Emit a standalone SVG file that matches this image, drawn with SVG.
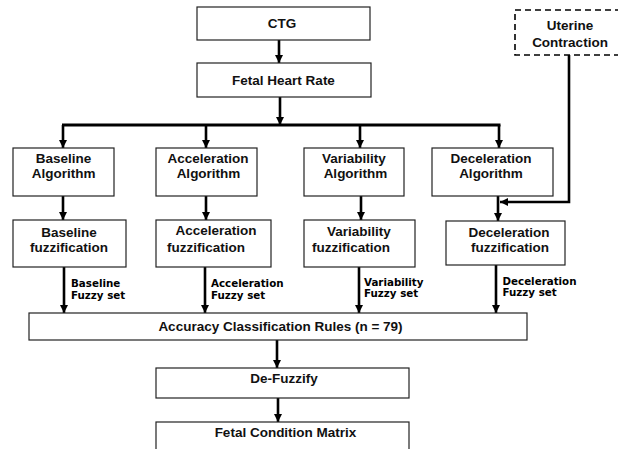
<svg xmlns="http://www.w3.org/2000/svg" width="618" height="449" viewBox="0 0 618 449">
<defs>
<marker id="ah" viewBox="0 0 10 10" refX="10" refY="5" markerWidth="8" markerHeight="9" orient="auto" markerUnits="userSpaceOnUse">
<path d="M0,0 L10,5 L0,10 z" fill="#000"/>
</marker>
<style>
.box{fill:#fff;stroke:#222;stroke-width:1.2}
.dash{fill:#fff;stroke:#000;stroke-width:1.6;stroke-dasharray:6 4}
.t{font-family:"Liberation Sans",Arial,sans-serif;font-weight:bold;font-size:13.5px;fill:#111;text-anchor:middle}
.lbl{font-family:"DejaVu Sans",sans-serif;font-weight:bold;font-size:10.3px;fill:#000}
.c{fill:none;stroke:#000;stroke-width:2.6}
.ca{fill:none;stroke:#000;stroke-width:2.6;marker-end:url(#ah)}
</style>
</defs>
<rect width="618" height="449" fill="#fff"/>

<g id="connectors">
<line class="ca" x1="279" y1="40" x2="279" y2="63"/>
<line class="ca" x1="280" y1="97" x2="280" y2="125"/>
<line class="c" x1="62" y1="125" x2="500.5" y2="125" style="stroke-width:3"/>
<line class="ca" x1="63" y1="125" x2="63" y2="148"/>
<line class="ca" x1="206" y1="125" x2="206" y2="148"/>
<line class="ca" x1="360" y1="125" x2="360" y2="148"/>
<line class="ca" x1="499" y1="125" x2="499" y2="148"/>
<line class="ca" x1="63" y1="196" x2="63" y2="220"/>
<line class="ca" x1="206" y1="196" x2="206" y2="220"/>
<line class="ca" x1="361" y1="196" x2="361" y2="220"/>
<line class="ca" x1="498" y1="196" x2="498" y2="221"/>
<polyline class="ca" points="569,55 569,202 500,202"/>
<line class="ca" x1="64" y1="267" x2="64" y2="313"/>
<line class="ca" x1="205" y1="267" x2="205" y2="313"/>
<line class="ca" x1="359" y1="267" x2="359" y2="313"/>
<line class="ca" x1="496" y1="265" x2="496" y2="313"/>
<line class="ca" x1="277" y1="340" x2="277" y2="368"/>
<line class="ca" x1="278" y1="398" x2="278" y2="422"/>
<text class="lbl" x="71" y="286.5">Baseline</text>
<text class="lbl" x="71" y="298.5">Fuzzy set</text>
<text class="lbl" x="211" y="286.5">Acceleration</text>
<text class="lbl" x="211" y="298.5">Fuzzy set</text>
<text class="lbl" x="364" y="285.5">Variability</text>
<text class="lbl" x="364" y="297">Fuzzy set</text>
<text class="lbl" x="502.5" y="284.5">Deceleration</text>
<text class="lbl" x="502.5" y="296">Fuzzy set</text>
</g>

<g id="ctg">
<rect class="box" x="197" y="7" width="173" height="33"/>
<text class="t" x="282" y="28">CTG</text>
</g>
<g id="fhr">
<rect class="box" x="197" y="63" width="174" height="34"/>
<text class="t" x="283.5" y="84.5">Fetal Heart Rate</text>
</g>
<g id="uterine">
<rect class="dash" x="515" y="10" width="125" height="45"/>
<text class="t" x="570" y="29.5">Uterine</text>
<text class="t" x="570" y="46.5">Contraction</text>
</g>

<g id="baseline-alg">
<rect class="box" x="13" y="148" width="101" height="48"/>
<text class="t" x="63.5" y="163">Baseline</text>
<text class="t" x="63.7" y="177.5">Algorithm</text>
</g>
<g id="acceleration-alg">
<rect class="box" x="156" y="148" width="101" height="48"/>
<text class="t" x="208" y="163">Acceleration</text>
<text class="t" x="208.5" y="177.5">Algorithm</text>
</g>
<g id="variability-alg">
<rect class="box" x="304" y="148" width="100" height="48"/>
<text class="t" x="354" y="163">Variability</text>
<text class="t" x="355.5" y="177.5">Algorithm</text>
</g>
<g id="deceleration-alg">
<rect class="box" x="432" y="148" width="121" height="48"/>
<text class="t" x="491" y="163">Deceleration</text>
<text class="t" x="491" y="177.5">Algorithm</text>
</g>

<g id="baseline-fuzz">
<rect class="box" x="13" y="220" width="113" height="47"/>
<text class="t" x="69" y="236.5">Baseline</text>
<text class="t" x="69" y="252">fuzzification</text>
</g>
<g id="acceleration-fuzz">
<rect class="box" x="156" y="220" width="115" height="47"/>
<text class="t" x="216" y="235">Acceleration</text>
<text class="t" x="206" y="252">fuzzification</text>
</g>
<g id="variability-fuzz">
<rect class="box" x="304" y="220" width="111" height="47"/>
<text class="t" x="359" y="235.5">Variability</text>
<text class="t" x="351" y="252">fuzzification</text>
</g>
<g id="deceleration-fuzz">
<rect class="box" x="446" y="221" width="119" height="44"/>
<text class="t" x="509" y="237">Deceleration</text>
<text class="t" x="510" y="252">fuzzification</text>
</g>

<g id="accuracy">
<rect class="box" x="29" y="313" width="498" height="27"/>
<text class="t" x="280.5" y="330.5">Accuracy Classification Rules (n = 79)</text>
</g>
<g id="defuzzify">
<rect class="box" x="156" y="368" width="253" height="30"/>
<text class="t" x="284" y="382.5">De-Fuzzify</text>
</g>
<g id="fetal-condition">
<rect class="box" x="156" y="422" width="253" height="40"/>
<text class="t" x="285.5" y="437">Fetal Condition Matrix</text>
</g>
</svg>
